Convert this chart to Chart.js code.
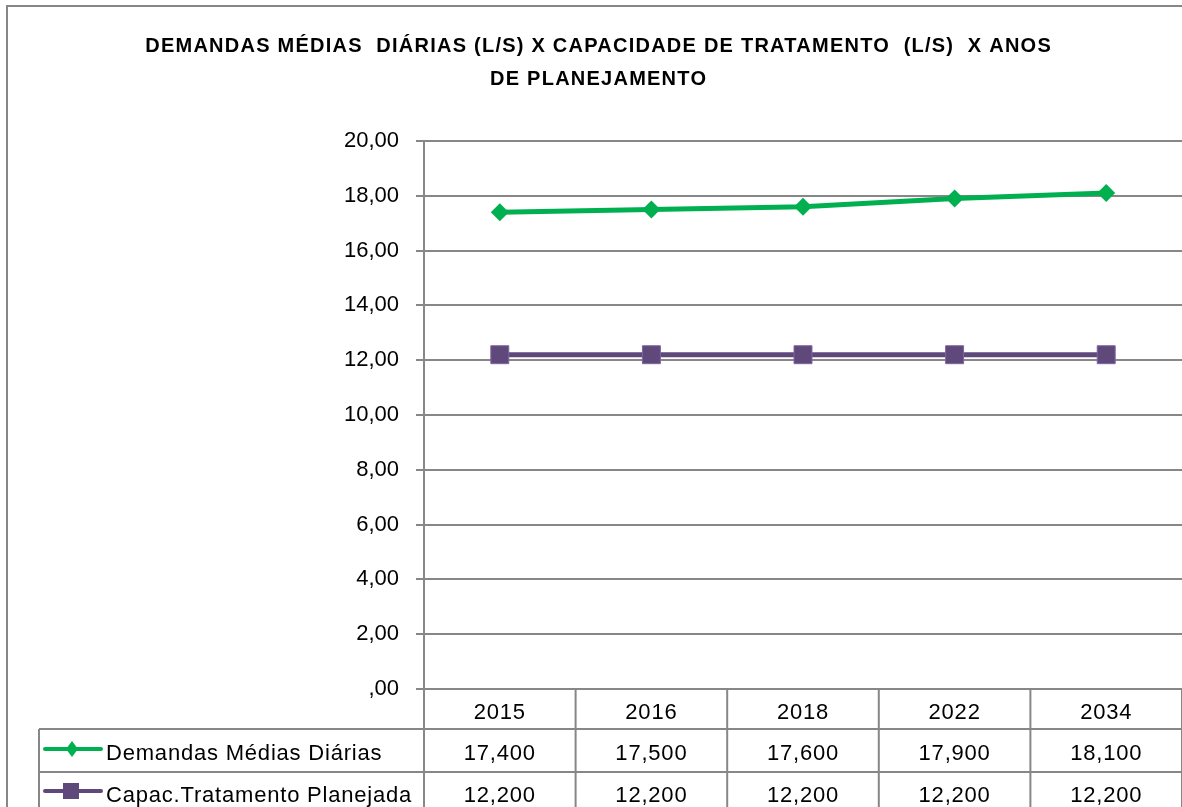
<!DOCTYPE html>
<html lang="pt">
  <head>
    <meta charset="UTF-8" />
    <title>Demandas x Capacidade de Tratamento</title>
    <script src="https://cdn.jsdelivr.net/npm/chart.js"></script>
    <style>
      html,
      body {
        margin: 0;
        padding: 0;
        background: #ffffff;
        overflow: hidden;
      }

      #chart-container {
        position: relative;
        width: 1182px;
        height: 807px;
      }
    </style>
  </head>
  <body>
    <div id="chart-container">
      <canvas id="demandChart"></canvas>
    </div>

    <script>
      // Data
      const years = ["2015", "2016", "2018", "2022", "2034"];
      const demandas = [17.4, 17.5, 17.6, 17.9, 18.1];
      const capacidade = [12.2, 12.2, 12.2, 12.2, 12.2];
      const seriesNames = [
        "Demandas Médias Diárias",
        "Capac.Tratamento Planejada",
      ];
      const titleLines = [
        "DEMANDAS MÉDIAS  DIÁRIAS (L/S) X CAPACIDADE DE TRATAMENTO  (L/S)  X ANOS",
        "DE PLANEJAMENTO",
      ];
      const yMin = 0;
      const yMax = 20;
      const yStep = 2;

      const GREEN = "#00B050";
      const PURPLE = "#5F497A";
      const GRID = "#878787";

      // "20,00" style labels, zero shown as ",00"
      function formatTick(v) {
        if (v === 0) return ",00";
        return v.toFixed(2).replace(".", ",");
      }

      function formatValue(v) {
        return v.toFixed(3).replace(".", ",");
      }

      // Title, outer frame and the data table under the plot
      const tablePlugin = {
        id: "dataTable",
        afterDraw(chart) {
          const ctx = chart.ctx;
          const area = chart.chartArea;
          const x = chart.scales.x;
          const W = chart.width;
          const H = chart.height;
          const colW = (area.right - area.left) / years.length;
          const rowTops = [area.bottom, area.bottom + 40, area.bottom + 83];
          const legendLeft = 39;

          ctx.save();

          // outer frame
          ctx.strokeStyle = GRID;
          ctx.lineWidth = 2;
          ctx.beginPath();
          ctx.moveTo(7, H);
          ctx.lineTo(7, 6);
          ctx.lineTo(W, 6);
          ctx.stroke();

          // title, stretched to the width it has in the original
          ctx.fillStyle = "#000";
          ctx.textAlign = "center";
          ctx.textBaseline = "alphabetic";
          ctx.font = "bold 20px 'Liberation Sans', Arial, sans-serif";
          const target = 907;
          const n = titleLines[0].length;
          const measured = ctx.measureText(titleLines[0]).width;
          const spacing = (target - measured) / n;
          ctx.letterSpacing = spacing.toFixed(2) + "px";
          ctx.fillText(titleLines[0], 598 + spacing / 2, 52);
          ctx.fillText(titleLines[1], 598 + spacing / 2, 85);
          ctx.letterSpacing = "0px";

          // table lines
          ctx.strokeStyle = GRID;
          ctx.lineWidth = 2;
          ctx.beginPath();
          // axis line continues down through the table
          ctx.moveTo(area.left, area.bottom);
          ctx.lineTo(area.left, H);
          for (let i = 1; i <= years.length; i++) {
            const bx = area.left + i * colW;
            ctx.moveTo(bx, area.bottom);
            ctx.lineTo(bx, H);
          }
          ctx.moveTo(legendLeft, rowTops[1]);
          ctx.lineTo(legendLeft, H);
          ctx.moveTo(legendLeft, rowTops[1]);
          ctx.lineTo(W, rowTops[1]);
          ctx.moveTo(legendLeft, rowTops[2]);
          ctx.lineTo(W, rowTops[2]);
          ctx.stroke();

          // table text
          ctx.fillStyle = "#000";
          ctx.font = "22px 'Liberation Sans', Arial, sans-serif";
          ctx.letterSpacing = "0.8px";
          ctx.textAlign = "center";
          years.forEach((yr, i) => {
            const cx = x.getPixelForValue(i);
            ctx.fillText(yr, cx, rowTops[0] + 30);
            ctx.fillText(formatValue(demandas[i]), cx, rowTops[1] + 31);
            ctx.fillText(formatValue(capacidade[i]), cx, rowTops[2] + 30);
          });
          ctx.textAlign = "left";
          ctx.fillText(seriesNames[0], 106, rowTops[1] + 31);
          ctx.fillText(seriesNames[1], 106, rowTops[2] + 30);
          ctx.letterSpacing = "0px";

          // legend keys
          ctx.lineCap = "round";
          ctx.lineWidth = 4;
          ctx.strokeStyle = GREEN;
          ctx.beginPath();
          ctx.moveTo(45, rowTops[1] + 20);
          ctx.lineTo(101, rowTops[1] + 20);
          ctx.stroke();
          ctx.fillStyle = GREEN;
          ctx.beginPath();
          const ly = rowTops[1] + 20;
          ctx.moveTo(72, ly - 8);
          ctx.lineTo(78, ly);
          ctx.lineTo(72, ly + 8);
          ctx.lineTo(66, ly);
          ctx.closePath();
          ctx.fill();

          ctx.strokeStyle = PURPLE;
          ctx.beginPath();
          ctx.moveTo(45, rowTops[2] + 19);
          ctx.lineTo(101, rowTops[2] + 19);
          ctx.stroke();
          ctx.fillStyle = PURPLE;
          ctx.fillRect(63, rowTops[2] + 11, 16, 16);

          ctx.restore();
        },
      };

      const chartCtx = document.getElementById("demandChart").getContext("2d");

      new Chart(chartCtx, {
        type: "line",
        data: {
          labels: years,
          datasets: [
            {
              label: seriesNames[0],
              data: demandas,
              borderColor: GREEN,
              backgroundColor: GREEN,
              borderWidth: 5,
              pointStyle: "rectRot",
              pointRadius: 9,
              pointBorderWidth: 0,
              tension: 0,
            },
            {
              label: seriesNames[1],
              data: capacidade,
              borderColor: PURPLE,
              backgroundColor: PURPLE,
              borderWidth: 5,
              pointStyle: "rect",
              pointRadius: 12.7,
              pointBorderWidth: 1,
              pointBorderColor: "#8064A2",
              tension: 0,
            },
          ],
        },
        options: {
          responsive: true,
          maintainAspectRatio: false,
          animation: false,
          layout: {
            autoPadding: false,
            padding: { top: 141, left: 0, right: 0, bottom: 118 },
          },
          plugins: {
            legend: { display: false },
            title: { display: false },
            tooltip: { enabled: false },
          },
          scales: {
            x: {
              display: false,
              offset: true,
            },
            y: {
              min: yMin,
              max: yMax,
              afterFit(scale) {
                scale.width = 424;
              },
              ticks: {
                stepSize: yStep,
                padding: 17,
                color: "#000",
                font: { family: "'Liberation Sans', Arial, sans-serif", size: 22 },
                callback: (v) => formatTick(v),
              },
              grid: {
                color: GRID,
                lineWidth: 2,
                tickLength: 8,
                drawTicks: true,
              },
              border: {
                display: true,
                color: GRID,
                width: 2,
              },
            },
          },
        },
        plugins: [tablePlugin],
      });
    </script>
  </body>
</html>
